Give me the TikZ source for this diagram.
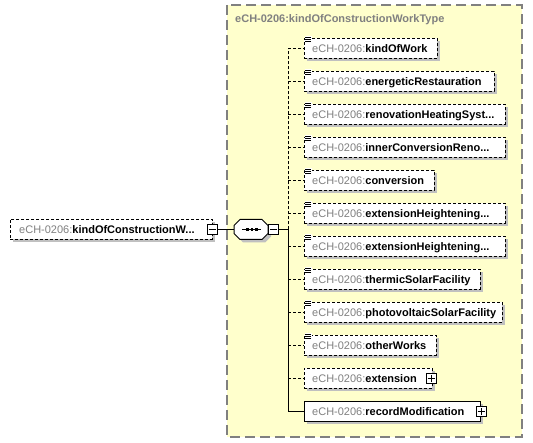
\documentclass[tikz,border=0pt]{standalone}
\usepackage{fontspec}
\setmainfont{Liberation Sans}
\usetikzlibrary{shadows}
\definecolor{bgyellow}{HTML}{FFFFCC}
\definecolor{pregray}{HTML}{808080}
\definecolor{shgray}{HTML}{C0C0C0}
\definecolor{framegray}{HTML}{808080}
\tikzset{
  elbox/.style={draw=black, line width=1pt, fill=white, minimum height=20pt, inner sep=0pt, outer sep=0pt, anchor=west,
    drop shadow={shadow xshift=3pt, shadow yshift=-3pt, fill=shgray, opacity=1}},
  optbox/.style={elbox, dash pattern=on 3pt off 2pt},
  reqbox/.style={elbox},
  lbl/.style={anchor=base west, inner sep=0pt, font=\fontsize{11}{13}\selectfont},
  pm/.style={draw=black, line width=1pt, fill=white, minimum size=10pt, inner sep=0pt, outer sep=0pt},
  conn/.style={draw=black, line width=1pt},
  optconn/.style={conn, dash pattern=on 3pt off 2pt},
  bar/.style={draw=black, line width=1pt},
}
\newcommand\mkelem[5]{%
  \node[#5, minimum width=#3pt] (#1) at (304,#2) {};
  \node[lbl] (#1t) at (312,#2+4) {\textcolor{pregray}{eCH-0206:}\textbf{#4}};
}
\newcommand\mkicon[1]{%
  \fill[white] ([xshift=0.5pt,yshift=2.5pt]#1.north west) rectangle ([xshift=7.5pt,yshift=-4pt]#1.north west);
  \foreach \d in {1.5,-0.5,-2.5} \draw[line width=0.9pt] ([xshift=1pt,yshift=\d pt]#1.north west) -- ([xshift=7pt,yshift=\d pt]#1.north west);
}
\newcommand\mkplus[2]{%
  \node[pm] (#1) at (#2) {};
  \draw[bar] ([xshift=-3.5pt]#1.center) -- ([xshift=3.5pt]#1.center) ([yshift=-3.5pt]#1.center) -- ([yshift=3.5pt]#1.center);
}
\newcommand\mkminus[2]{%
  \node[pm] (#1) at (#2) {};
  \draw[bar] ([xshift=-3.5pt]#1.center) -- ([xshift=3.5pt]#1.center);
}
\begin{document}
\begin{tikzpicture}[x=1pt,y=-1pt]
\useasboundingbox (0,0) rectangle (533,443);
% type frame
\draw[framegray, line width=1.5pt, dash pattern=on 10pt off 5pt, fill=bgyellow] (227,5) rectangle (522,437);
\node[lbl, text=pregray] (title) at (235,23) {\textbf{eCH-0206:kindOfConstructionWorkType}};

% root element
\node[optbox, minimum width=202pt] (root) at (10,229.5) {};
\node[lbl] (roott) at (19,233.5) {\textcolor{pregray}{eCH-0206:}\textbf{kindOfConstructionW...}};
\mkminus{m0}{212,229.5}

% sequence compositor
\node[minimum width=34pt, minimum height=20pt, inner sep=0pt, outer sep=0pt] (seq) at (251,229.5) {};
\fill[shgray, shift={(254,232.5)}] (-11,-10) -- (11,-10) -- (17,-4) -- (17,4) -- (11,10) -- (-11,10) -- (-17,4) -- (-17,-4) -- cycle;
\draw[line width=1pt, fill=white, shift={(seq.center)}] (-11,-10) -- (11,-10) -- (17,-4) -- (17,4) -- (11,10) -- (-11,10) -- (-17,4) -- (-17,-4) -- cycle;
\draw[line width=1pt, shift={(seq.center)}] (-9,0) -- (10,0);
\foreach \dx in {-3.5,1,5.5} \fill[shift={(seq.center)}] (\dx-1.4,-1.4) rectangle (\dx+1.4,1.4);
\mkminus{m1}{273.5,229.5}

% children
\mkelem{e1}{48.5}{133}{kindOfWork}{optbox}
\mkelem{e2}{81.5}{190}{energeticRestauration}{optbox}
\mkelem{e3}{114.5}{201}{renovationHeatingSyst...}{optbox}
\mkelem{e4}{147.5}{201}{innerConversionReno...}{optbox}
\mkelem{e5}{180.5}{130}{conversion}{optbox}
\mkelem{e6}{213.5}{201}{extensionHeightening...}{optbox}
\mkelem{e7}{246.5}{201}{extensionHeightening...}{optbox}
\mkelem{e8}{279.5}{176}{thermicSolarFacility}{optbox}
\mkelem{e9}{312.5}{198}{photovoltaicSolarFacility}{optbox}
\mkelem{e10}{345.5}{132}{otherWorks}{optbox}
\mkelem{e11}{378.5}{128}{extension}{optbox}
\mkelem{e12}{411.5}{176}{recordModification}{reqbox}
\foreach \n in {e1,e2,e3,e4,e5,e6,e7,e8,e9,e10} {\mkicon{\n}}
\mkplus{p11}{431,379}
\mkplus{p12}{481,412}

% connectors
\coordinate (v) at (288,229.5);
\draw[conn] (m0.east) -- (seq.west);
\draw[conn] (m1.east) -- (v);
\draw[optconn] (v) -- (v |- e1.west);
\draw[conn] (v) -- (v |- e12.west);
\foreach \n in {e1,e2,e3,e4,e5,e6,e7,e8,e9,e10,e11} {\draw[optconn] (v |- \n.west) -- (\n.west);}
\draw[conn] (v |- e12.west) -- (e12.west);
\end{tikzpicture}
\end{document}
